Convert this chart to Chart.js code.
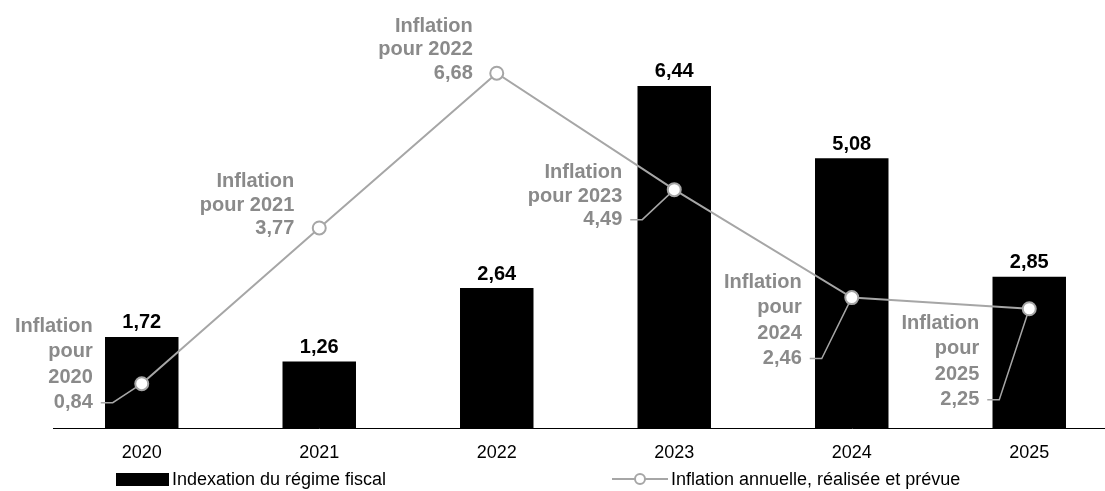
<!DOCTYPE html>
<html>
<head>
<meta charset="utf-8">
<script src="https://cdn.jsdelivr.net/npm/chart.js@4.4.1/dist/chart.umd.min.js"></script>
<style>
  body { margin: 0; background: #fff; }
  #wrap { width: 1105px; height: 491px; overflow: hidden; }
</style>
</head>
<body>
<div id="wrap"><canvas id="chart" width="1118" height="491"></canvas></div>
<script>
const years = ["2020", "2021", "2022", "2023", "2024", "2025"];
const indexation = [1.72, 1.26, 2.64, 6.44, 5.08, 2.85];
const inflation = [0.84, 3.77, 6.68, 4.49, 2.46, 2.25];

const barName = "Indexation du régime fiscal";
const lineName = "Inflation annuelle, réalisée et prévue";

const FONT = "'Liberation Sans', Arial, sans-serif";
const GREY_LINE = "#a6a6a6";
const GREY_TEXT = "#8a8a8a";

// where each inflation label sits, relative to its point
const labelLayout = [
  { dx: -49, dy: 19, split: true, leader: true },
  { dx: -25, dy: 1, split: false, leader: false },
  { dx: -24, dy: 0, split: false, leader: false },
  { dx: -52, dy: 30, split: false, leader: true },
  { dx: -50, dy: 61, split: true, leader: true },
  { dx: -50, dy: 91, split: true, leader: true },
];

const fmt = v => v.toFixed(2).replace(".", ",");

function inflationLines(i) {
  const v = fmt(inflation[i]);
  if (labelLayout[i].split) return ["Inflation", "pour", years[i], v];
  return ["Inflation", "pour " + years[i], v];
}

const labelsPlugin = {
  id: "labels",
  afterDatasetDraw(chart, args) {
    const ctx = chart.ctx;
    if (args.index === 0) {
      // bar values + leader lines (under the line markers)
      ctx.save();
      ctx.font = "bold 20px " + FONT;
      ctx.fillStyle = "#000";
      ctx.textAlign = "center";
      ctx.textBaseline = "middle";
      args.meta.data.forEach((bar, i) => {
        ctx.fillText(fmt(indexation[i]), bar.x, bar.y - 14);
      });
      const pts = chart.getDatasetMeta(1).data;
      ctx.strokeStyle = GREY_LINE;
      ctx.lineWidth = 1.5;
      pts.forEach((p, i) => {
        const l = labelLayout[i];
        if (!l.leader) return;
        const y = p.y + l.dy;
        ctx.beginPath();
        ctx.moveTo(p.x + l.dx + 8, y);
        ctx.lineTo(p.x + l.dx + 20, y);
        ctx.lineTo(p.x, p.y);
        ctx.stroke();
      });
      ctx.restore();
    }
  },
  afterDatasetsDraw(chart) {
    const ctx = chart.ctx;
    const pts = chart.getDatasetMeta(1).data;
    ctx.save();
    ctx.font = "bold 20px " + FONT;
    ctx.fillStyle = GREY_TEXT;
    ctx.textAlign = "right";
    ctx.textBaseline = "middle";
    pts.forEach((p, i) => {
      const l = labelLayout[i];
      const lines = inflationLines(i);
      const lh = lines.length > 3 ? 25.5 : 23.5;
      const x = p.x + l.dx;
      const yLast = p.y + l.dy;
      lines.forEach((t, k) => {
        ctx.fillText(t, x, yLast - (lines.length - 1 - k) * lh);
      });
    });
    ctx.restore();
  },
  afterDraw(chart) {
    // legend
    const ctx = chart.ctx;
    const y = 479;
    ctx.save();
    ctx.fillStyle = "#000";
    ctx.fillRect(116, y - 6, 53, 13);
    ctx.font = "18px " + FONT;
    ctx.textBaseline = "middle";
    ctx.textAlign = "left";
    ctx.fillText(barName, 172, y + 1);
    ctx.strokeStyle = GREY_LINE;
    ctx.lineWidth = 2;
    ctx.beginPath();
    ctx.moveTo(612, y);
    ctx.lineTo(668, y);
    ctx.stroke();
    ctx.beginPath();
    ctx.arc(640, y, 5, 0, Math.PI * 2);
    ctx.fillStyle = "#fff";
    ctx.fill();
    ctx.stroke();
    ctx.fillStyle = "#000";
    ctx.fillText(lineName, 671, y + 1);
    ctx.restore();
  }
};

new Chart(document.getElementById("chart"), {
  data: {
    labels: years,
    datasets: [
      {
        type: "bar",
        label: barName,
        data: indexation,
        backgroundColor: "#000",
        barPercentage: 0.414,
        categoryPercentage: 1,
        order: 2
      },
      {
        type: "line",
        label: lineName,
        data: inflation,
        borderColor: GREY_LINE,
        borderWidth: 2,
        pointRadius: 6.5,
        pointBorderWidth: 2,
        pointBackgroundColor: "#fff",
        pointBorderColor: GREY_LINE,
        tension: 0,
        order: 1
      }
    ]
  },
  options: {
    responsive: false,
    animation: false,
    layout: { autoPadding: false, padding: { left: 53, right: 0, top: 3, bottom: 13 } },
    plugins: {
      legend: { display: false },
      tooltip: { enabled: false }
    },
    scales: {
      x: {
        grid: { display: true, drawOnChartArea: false, drawTicks: false },
        border: { display: true, color: "#000", width: 1 },
        ticks: { color: "#000", font: { family: FONT, size: 18 }, padding: 14 }
      },
      y: { display: false, min: 0, max: 8 }
    }
  },
  plugins: [labelsPlugin]
});
</script>
</body>
</html>
